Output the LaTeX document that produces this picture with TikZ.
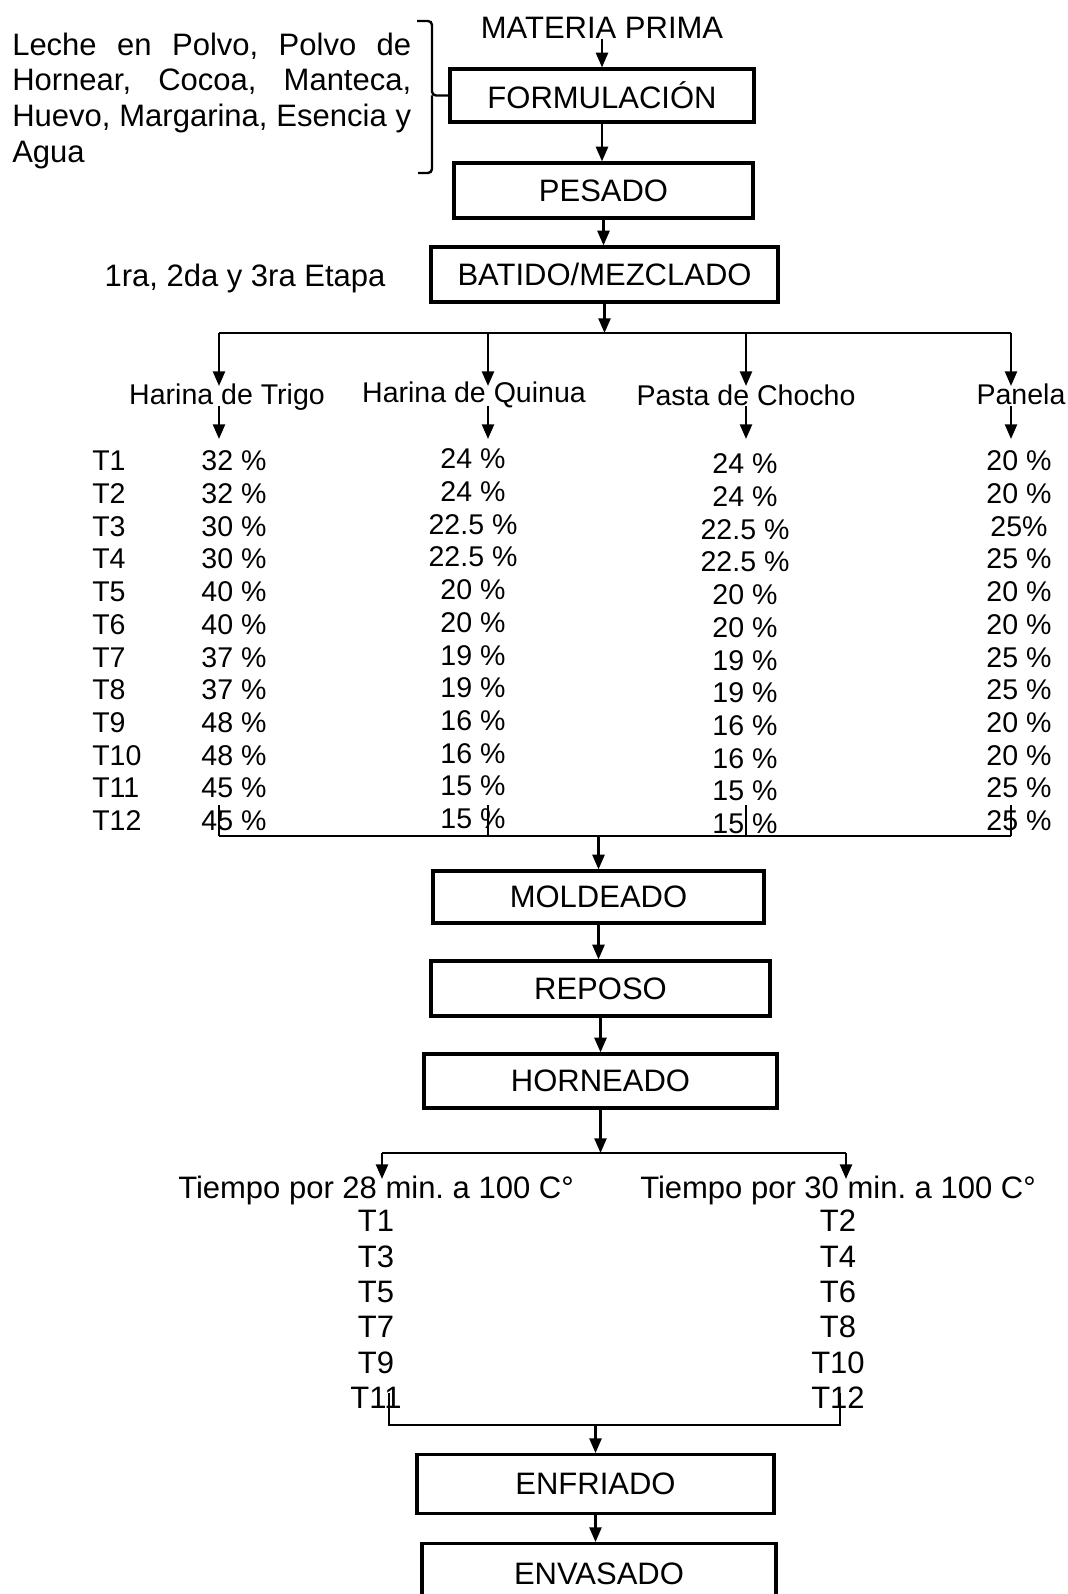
\documentclass[tikz,border=0pt]{standalone}
\usepackage{fontspec}
\setmainfont{Liberation Sans}
\usetikzlibrary{positioning,arrows.meta}
\frenchspacing

\begin{document}
\begin{tikzpicture}[x=0.75pt,y=-0.75pt,>={Triangle[length=11pt,width=9pt]},
  every node/.style={font=\fontsize{23.25}{26.7}\selectfont,inner sep=0pt},
  box/.style={draw,line width=2.4pt},
  tab/.style={font=\fontsize{21.4}{24.5}\selectfont},
  flow/.style={line width=1.8pt},
  arr/.style={flow,->}]
  \useasboundingbox (0,0) rectangle (1067,1594);

  % main column of steps
  \node (materia) at (602,28) {MATERIA PRIMA};
  \node[box,minimum width=228pt,minimum height=39.75pt] (form) at (602,95.5) {FORMULACIÓN};
  \node[box,minimum width=224.25pt,minimum height=41.25pt] (pesado) at (603.5,190.5) {PESADO};
  \node[box,minimum width=260.25pt,minimum height=41.25pt] (batido) at (604.5,274.5) {BATIDO/MEZCLADO};
  \node[anchor=base] (etapa) at (245,287) {1ra, 2da y 3ra Etapa};
  \node[anchor=north west,text width=299.25pt,align=justify] (insumos) at (12,32.5)
    {\hyphenpenalty=10000 Leche en Polvo, Polvo de\linebreak Hornear, Cocoa, Manteca,\linebreak
     Huevo, Margarina, Esencia y\linebreak Agua};

  \draw[flow,rounded corners=3pt] (417,21) -| (432,95.5) -- (form.west);
  \draw[flow,rounded corners=3pt] (418,173) -| (432,95.5);

  \draw[arr] (materia.south -| form.north) -- (form.north);
  \draw[arr] (form.south) -- (form.south |- pesado.north);
  \draw[arr] (pesado.south) -- (pesado.south |- batido.north);

  % split into the four ingredients
  \coordinate (sp1) at (604.5,333);
  \draw[arr] (batido.south) -- (sp1);
  \node[tab,anchor=base] (h1) at (227,404) {Harina de Trigo};
  \node[tab,anchor=base] (h2) at (474,402) {Harina de Quinua};
  \node[tab,anchor=base] (h3) at (746,405) {Pasta de Chocho};
  \node[tab,anchor=base] (h4) at (1021,404) {Panela};
  \foreach \x [count=\j] in {219,488,746,1011} {
    \coordinate (c\j) at (\x,333);
    \coordinate (a\j) at (\x,386);
    \coordinate (b\j) at (\x,406);
    \coordinate (d\j) at (\x,439);
    \coordinate (e\j) at (\x,805);
    \coordinate (f\j) at (\x,836);
    \draw[arr] (c\j) -- (a\j);
    \draw[arr] (b\j) -- (d\j);
    \draw[flow] (e\j) -- (f\j);
  }
  \draw[flow] (c1) -- (c4);
  \draw[flow] (f1) -- (f4);

  % treatments
  \foreach \t/\a/\b/\c/\d [count=\i] in {
    T1/32 \%/24 \%/24 \%/20 \%, T2/32 \%/24 \%/24 \%/20 \%,
    T3/30 \%/22.5 \%/22.5 \%/25\%, T4/30 \%/22.5 \%/22.5 \%/25 \%,
    T5/40 \%/20 \%/20 \%/20 \%, T6/40 \%/20 \%/20 \%/20 \%,
    T7/37 \%/19 \%/19 \%/25 \%, T8/37 \%/19 \%/19 \%/25 \%,
    T9/48 \%/16 \%/16 \%/20 \%, T10/48 \%/16 \%/16 \%/20 \%,
    T11/45 \%/15 \%/15 \%/25 \%, T12/45 \%/15 \%/15 \%/25 \%} {
    \pgfmathsetmacro\ry{461+32.7*(\i-1)}
    \node[tab,anchor=west] (t\i) at (92,\ry) {\t};
    \node[tab] (v\i-1) at (234,\ry) {\a};
    \node[tab] (v\i-2) at (473,\ry-2) {\b};
    \node[tab] (v\i-3) at (745,\ry+3) {\c};
    \node[tab] (v\i-4) at (1019,\ry) {\d};
  }

  \node[box,minimum width=248.25pt,minimum height=39pt] (moldeado) at (598.5,897) {MOLDEADO};
  \node[box,minimum width=254.25pt,minimum height=41.25pt] (reposo) at (600.5,988.5) {REPOSO};
  \node[box,minimum width=264.75pt,minimum height=40.5pt] (horneado) at (600.5,1081) {HORNEADO};
  \draw[arr] (moldeado.north |- f1) -- (moldeado.north);
  \draw[arr] (moldeado.south) -- (moldeado.south |- reposo.north);
  \draw[arr] (reposo.south) -- (reposo.south |- horneado.north);

  % baking times
  \coordinate (sp2) at (600.5,1153);
  \coordinate (g1) at (382,1153);
  \coordinate (g2) at (846,1153);
  \coordinate (k1) at (382,1179);
  \coordinate (k2) at (846,1179);
  \draw[arr] (horneado.south) -- (sp2);
  \draw[flow] (g1) -- (g2);
  \draw[arr] (g1) -- (k1);
  \draw[arr] (g2) -- (k2);
  \node[anchor=base] (tiempo1) at (376,1198) {Tiempo por 28 min. a 100 C°};
  \node[anchor=base] (tiempo2) at (838,1198) {Tiempo por 30 min. a 100 C°};
  \foreach \a/\b [count=\i] in {T1/T2,T3/T4,T5/T6,T7/T8,T9/T10,T11/T12} {
    \pgfmathsetmacro\ry{1221+35.4*(\i-1)}
    \node (l\i) at (376,\ry) {\a};
    \node (r\i) at (838,\ry) {\b};
  }
  \coordinate (m1) at (389,1393);
  \coordinate (m2) at (840,1393);
  \coordinate (n1) at (389,1425);
  \coordinate (n2) at (840,1425);
  \draw[flow] (m1) -- (n1) -- (n2) -- (m2);

  \node[box,minimum width=267.75pt,minimum height=44pt] (enfriado) at (595.5,1484) {ENFRIADO};
  \node[box,minimum width=265.5pt,minimum height=45pt,anchor=north] (envasado) at (599,1542) {ENVASADO};
  \draw[arr] (enfriado.north |- n1) -- (enfriado.north);
  \draw[arr] (enfriado.south) -- (enfriado.south |- envasado.north);
\end{tikzpicture}
\end{document}
